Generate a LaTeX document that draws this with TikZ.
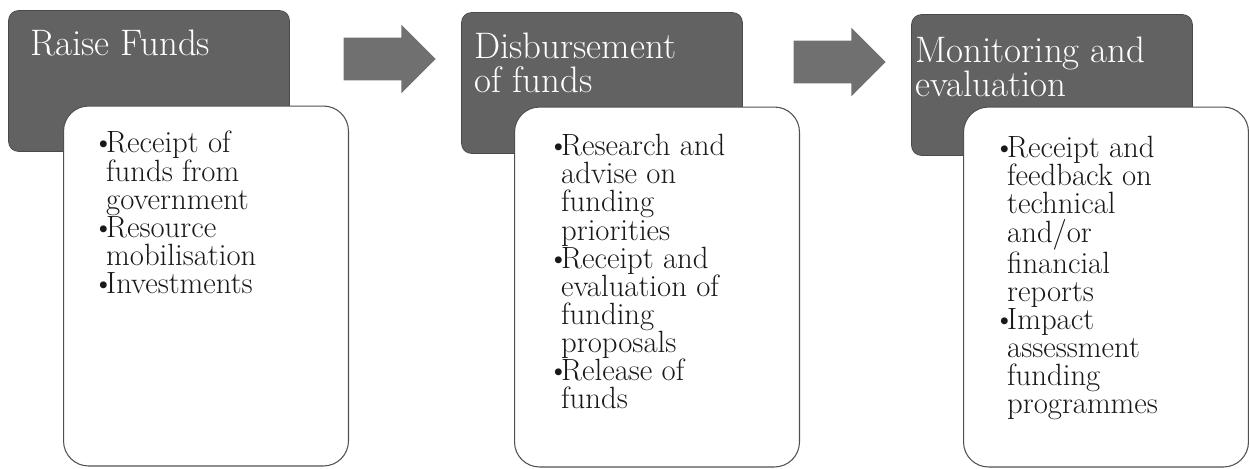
\documentclass[tikz,border=0pt]{standalone}
\definecolor{headgray}{RGB}{98,98,98}
\definecolor{arrowgray}{RGB}{112,112,112}
\definecolor{linegray}{RGB}{80,80,80}
\definecolor{textdark}{RGB}{25,25,25}
\usepackage{xcolor}
\usepackage{tikz}
\usetikzlibrary{shapes.arrows}
\newcommand{\bul}{\makebox[0.45em][l]{\textbullet}}
\newcommand{\ind}{\hspace*{0.45em}}

\begin{document}
\begin{tikzpicture}[x=0.02cm,y=-0.02cm,
  headbox/.style={draw=headgray!75!black,fill=headgray,rounded corners=0.2cm,
                  minimum width=5.62cm,minimum height=2.82cm,inner sep=0pt},
  headtext/.style={anchor=north west,inner sep=0pt,text=white,align=left,
                   font=\fontsize{21}{19}\selectfont},
  listbox/.style={draw=linegray,line width=0.6pt,fill=white,rounded corners=0.5cm,
                  minimum width=5.7cm,minimum height=7.2cm,inner sep=0pt},
  listtext/.style={anchor=north west,inner sep=0pt,text=textdark,align=left,
                   font=\fontsize{17.5}{16}\selectfont},
  flow/.style={single arrow,fill=arrowgray,single arrow head extend=0.26cm,
               inner xsep=0pt,inner ysep=0.42cm,text height=0pt,text depth=0pt,
               minimum height=1.84cm}
]
  \useasboundingbox (0,0) rectangle (1249,468);

  % stage headers
  \node[headbox] (raise) at (149,81) {};
  \node[headbox] (disb)  at (602,83) {};
  \node[headbox] (mon)   at (1052,85) {};
  \node[headtext] (raiset) at (30,30) {Raise Funds};
  \node[headtext] (disbt)  at (474,33) {Disbursement\\of funds};
  \node[headtext] (mont)   at (915,37) {Monitoring and\\evaluation};

  % arrows between stages
  \node[flow] (go1) at (379,59) {};
  \node[flow] (go2) at (829,62) {};

  % detail boxes
  \node[listbox] (raiseb) at (206,286) {};
  \node[listbox] (disbb)  at (657,287) {};
  \node[listbox] (monb)   at (1106,287) {};
  \node[listtext] (raisel) at (92,131)
    {\bul Receipt of\\\ind funds from\\\ind government\\
     \bul Resource\\\ind mobilisation\\
     \bul Investments};
  \node[listtext] (disbl) at (547,134)
    {\bul Research and\\\ind advise on\\\ind funding\\\ind priorities\\
     \bul Receipt and\\\ind evaluation of\\\ind funding\\\ind proposals\\
     \bul Release of\\\ind funds};
  \node[listtext] (monl) at (993,136)
    {\bul Receipt and\\\ind feedback on\\\ind technical\\\ind and/or\\\ind financial\\\ind reports\\
     \bul Impact\\\ind assessment\\\ind funding\\\ind programmes};
\end{tikzpicture}
\end{document}
